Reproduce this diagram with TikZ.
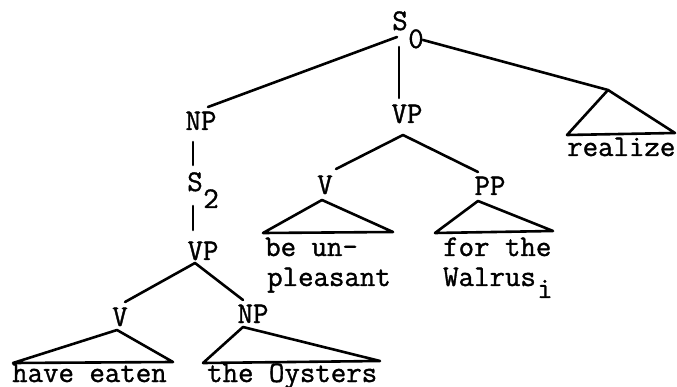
\documentclass[tikz,border=0pt]{standalone}
\usepackage{fontspec}
\setmonofont{Latin Modern Mono}[FakeBold=1.2]
\begin{document}
\begin{tikzpicture}[x=1pt,y=-1pt,
  lbl/.style={inner sep=0pt,anchor=base,font=\ttfamily\fontsize{30}{33}\selectfont},
  txt/.style={inner sep=0pt,anchor=base west,font=\ttfamily\fontsize{30}{33}\selectfont},
  edge/.style={line width=2.6pt,line cap=round,line join=round}]
\useasboundingbox (0,0) rectangle (677,387);
% labels
\node[lbl] (S0) at (400,30) {S};
\node[lbl] (S0sub) at (416,48) {0};
\node[lbl] (NP1) at (201,130) {NP};
\node[lbl] (S2) at (195,191) {S};
\node[lbl] (S2sub) at (211,208) {2};
\node[lbl] (VP1) at (203,260) {VP};
\node[lbl] (V1) at (120,326) {V};
\node[lbl] (NP2) at (253,323) {NP};
\node[lbl] (VP2) at (407,123) {VP};
\node[lbl] (V2) at (325,194) {V};
\node[lbl] (PP) at (490,195) {PP};
% texts
\node[txt] (t1) at (567,156) {realize};
\node[txt] (t2) at (265,256) {be un-};
\node[txt] (t3) at (267,286) {pleasant};
\node[txt] (t4) at (443,256) {for the};
\node[txt] (t5) at (443,286) {Walrus};
\node[txt] (t5sub) at (537,298) {i};
\node[txt] (t6) at (12,382) {have eaten};
\node[txt] (t7) at (207,382) {the Oysters};
% coordinates
\coordinate (s0l) at (397,37);
\coordinate (s0d) at (399,47);
\coordinate (s0r) at (423,40);
\coordinate (np1t) at (208,107);
\coordinate (vp2t) at (399,98);
\coordinate (rA) at (608,90);
\coordinate (rL) at (567,135);
\coordinate (rR) at (675,133);
\coordinate (np1b) at (193,142);
\coordinate (s2t) at (193,165);
\coordinate (s2b) at (193,206);
\coordinate (vp1t) at (193,230);
\coordinate (vp1a) at (195,263);
\coordinate (v1t) at (125,302);
\coordinate (np2t) at (243,300);
\coordinate (v1a) at (117,330);
\coordinate (v1L) at (13,363);
\coordinate (v1R) at (173,362);
\coordinate (np2a) at (243,327);
\coordinate (np2L) at (203,363);
\coordinate (np2R) at (380,361);
\coordinate (vp2a) at (403,135);
\coordinate (v2t) at (336,169);
\coordinate (ppt) at (478,172);
\coordinate (v2a) at (322,200);
\coordinate (v2L) at (263,233);
\coordinate (v2R) at (393,232);
\coordinate (ppa) at (478,201);
\coordinate (ppL) at (435,233);
\coordinate (ppR) at (553,231);
% edges
\draw[edge] (s0l) -- (np1t);
\draw[edge] (s0d) -- (vp2t);
\draw[edge] (s0r) -- (rA);
\draw[edge] (rA) -- (rL) -- (rR) -- cycle;
\draw[edge] (np1b) -- (s2t);
\draw[edge] (s2b) -- (vp1t);
\draw[edge] (v1t) -- (vp1a) -- (np2t);
\draw[edge] (v1a) -- (v1L) -- (v1R) -- cycle;
\draw[edge] (np2a) -- (np2L) -- (np2R) -- cycle;
\draw[edge] (v2t) -- (vp2a) -- (ppt);
\draw[edge] (v2a) -- (v2L) -- (v2R) -- cycle;
\draw[edge] (ppa) -- (ppL) -- (ppR) -- cycle;
\end{tikzpicture}
\end{document}
